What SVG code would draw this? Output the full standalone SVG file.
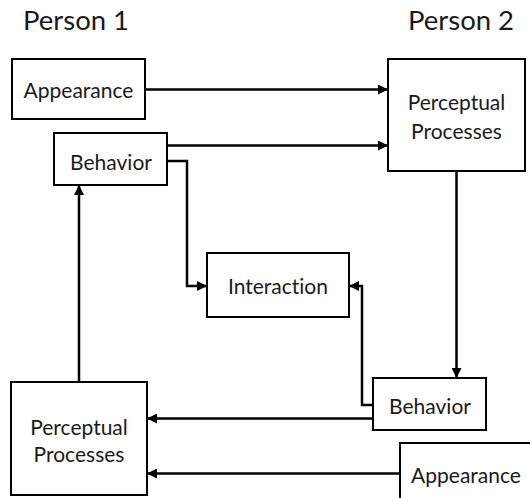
<svg xmlns="http://www.w3.org/2000/svg" width="530" height="498" viewBox="0 0 530 498">
<defs>
<style>
.box{fill:#fff;stroke:#000;stroke-width:2}
.t{font-family:Lato,"Open Sans",sans-serif;font-size:21px;fill:#1a1a1a;text-anchor:middle;dominant-baseline:central;font-variant-ligatures:none}
.h{font-family:Lato,"Open Sans",sans-serif;font-size:27.5px;fill:#1a1a1a}
.c{fill:none;stroke:#000;stroke-width:2.5}
</style>
<marker id="ah" viewBox="0 0 10 10" refX="10" refY="5" markerWidth="4" markerHeight="4" markerUnits="strokeWidth" orient="auto">
<path d="M0,0 L10,5 L0,10 z" fill="#000"/>
</marker>
</defs>
<rect width="530" height="498" fill="#fff"/>
<text class="h" x="23" y="30">Person 1</text>
<text class="h" x="408" y="30">Person 2</text>
<g id="connectors">
<path class="c" d="M145,89.5 H388" marker-end="url(#ah)"/>
<path class="c" d="M167,145.5 H388" marker-end="url(#ah)"/>
<path class="c" d="M167,161 H187 V286 H207" marker-end="url(#ah)"/>
<path class="c" d="M373,405 H362 V286 H349" marker-end="url(#ah)"/>
<path class="c" d="M456.5,171 V378" marker-end="url(#ah)"/>
<path class="c" d="M373,418.5 H147" marker-end="url(#ah)"/>
<path class="c" d="M400,473.5 H147" marker-end="url(#ah)"/>
<path class="c" d="M79,381 V185" marker-end="url(#ah)"/>
</g>
<g id="appearance1"><rect class="box" x="12" y="59" width="133" height="60"/><text class="t" x="78.5" y="89">Appearance</text></g>
<g id="behavior1"><rect class="box" x="54" y="133" width="113" height="52"/><text class="t" x="111" y="161">Behavior</text></g>
<g id="perceptual2"><rect class="box" x="388" y="59" width="137" height="112"/><text class="t" x="456.5" y="101">Perceptual</text><text class="t" x="456.5" y="130">Processes</text></g>
<g id="interaction"><rect class="box" x="207" y="253" width="142" height="64"/><text class="t" x="278" y="285">Interaction</text></g>
<g id="behavior2"><rect class="box" x="373" y="378" width="113" height="52"/><text class="t" x="430" y="405">Behavior</text></g>
<g id="perceptual1"><rect class="box" x="11" y="382" width="136" height="113"/><text class="t" x="79" y="426">Perceptual</text><text class="t" x="79" y="453">Processes</text></g>
<g id="appearance2"><rect class="box" x="400" y="443" width="140" height="70"/><text class="t" x="466" y="474">Appearance</text></g>
</svg>
